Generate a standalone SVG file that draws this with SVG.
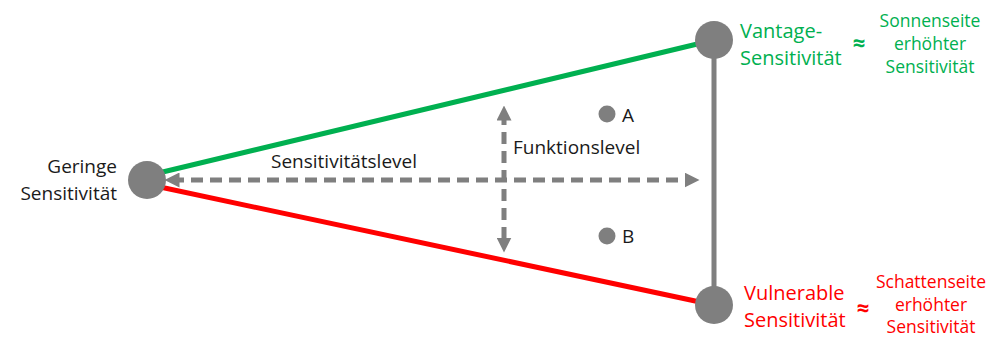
<svg xmlns="http://www.w3.org/2000/svg" width="998" height="338" viewBox="0 0 998 338">
<defs>
<style>
text{font-family:"Open Sans","Noto Sans","Liberation Sans",sans-serif;}
.lbl{font-size:19px;fill:#1a1a1a;}
.g{fill:#00b050;}
.r{fill:#ff0000;}
.big{font-size:20px;}
.small{font-size:17.5px;}
.approx{font-size:22px;font-weight:bold;}
.node{fill:#7f7f7f;}
.dash{stroke:#7f7f7f;stroke-width:5;stroke-dasharray:12 7;fill:none;}
</style>
<marker id="ah" viewBox="0 0 10 10" refX="5" refY="5" markerWidth="3" markerHeight="3" orient="auto-start-reverse" markerUnits="strokeWidth">
<path d="M0,0 L10,5 L0,10 z" fill="#7f7f7f"/>
</marker>
</defs>
<rect width="998" height="338" fill="#ffffff"/>
<g id="connectors">
<line x1="146" y1="176" x2="714" y2="40" stroke="#00b050" stroke-width="5"/>
<line x1="146" y1="184" x2="714" y2="305" stroke="#ff0000" stroke-width="5"/>
<line x1="714" y1="40" x2="714" y2="305" stroke="#7f7f7f" stroke-width="5"/>
<line class="dash" x1="172" y1="180" x2="692" y2="180" marker-start="url(#ah)" marker-end="url(#ah)"/>
<line class="dash" x1="504" y1="113" x2="504" y2="245" marker-start="url(#ah)" marker-end="url(#ah)"/>
</g>
<g id="node-geringe">
<circle class="node" cx="147" cy="180" r="19"/>
<text class="lbl" x="117" y="173" text-anchor="end">Geringe</text>
<text class="lbl" x="117" y="200" text-anchor="end">Sensitivität</text>
</g>
<g id="node-vantage">
<circle class="node" cx="714" cy="40" r="19"/>
<text class="g big" x="740" y="38">Vantage-</text>
<text class="g big" x="740" y="65">Sensitivität</text>
<text class="g approx" x="859" y="51" text-anchor="middle">≈</text>
<text class="g small" text-anchor="middle"><tspan x="930" y="27">Sonnenseite</tspan><tspan x="930" y="50">erhöhter</tspan><tspan x="930" y="73">Sensitivität</tspan></text>
</g>
<g id="node-vulnerable">
<circle class="node" cx="714" cy="305" r="19"/>
<text class="r big" x="744" y="300">Vulnerable</text>
<text class="r big" x="744" y="327">Sensitivität</text>
<text class="r approx" x="863" y="316" text-anchor="middle">≈</text>
<text class="r small" text-anchor="middle"><tspan x="931" y="288">Schattenseite</tspan><tspan x="931" y="311">erhöhter</tspan><tspan x="931" y="333">Sensitivität</tspan></text>
</g>
<g id="node-A">
<circle class="node" cx="607" cy="114" r="8.5"/>
<text class="lbl" x="622" y="122">A</text>
</g>
<g id="node-B">
<circle class="node" cx="607" cy="236" r="8.5"/>
<text class="lbl" x="622" y="243">B</text>
</g>
<g id="label-sens">
<text class="lbl" x="271" y="168">Sensitivitätslevel</text>
</g>
<g id="label-funk">
<text class="lbl" x="513" y="154">Funktionslevel</text>
</g>
</svg>
